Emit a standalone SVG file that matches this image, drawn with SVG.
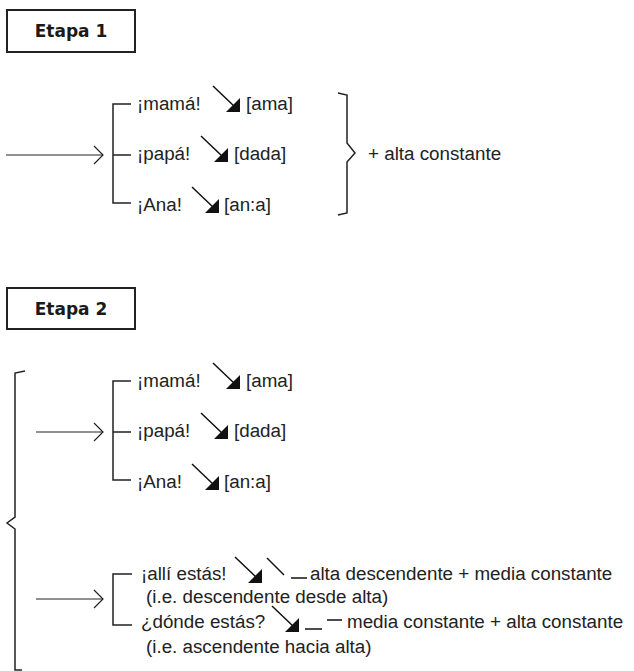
<svg xmlns="http://www.w3.org/2000/svg" width="634" height="671" viewBox="0 0 634 671">
<style>
  .bg{fill:#fff}
  .box{fill:#fff;stroke:#222;stroke-width:2}
  .title{font-family:"DejaVu Sans",sans-serif;font-weight:bold;font-size:17px;fill:#1a1a1a;text-anchor:middle}
  .t{font-family:"Liberation Sans",Arial,sans-serif;font-size:18.8px;fill:#222}
  .br{fill:none;stroke:#222;stroke-width:1.5}
  .ln{fill:none;stroke:#222;stroke-width:1.2}
  .gl{fill:none;stroke:#111;stroke-width:1.5}
  .tri{fill:#111}
</style>
<defs>
  <g id="fall">
    <line x1="0" y1="0" x2="22" y2="21" class="gl"/>
    <polygon points="13,26 27,26 27,12" class="tri"/>
  </g>
  <polyline id="chev" points="-9,-9 0,0 -9,9" class="ln"/>
</defs>
<rect class="bg" x="0" y="0" width="634" height="671"/>

<g id="etapa1">
  <rect class="box" x="7" y="10" width="128" height="42"/>
  <text class="title" x="71" y="37">Etapa 1</text>
</g>

<g id="e1-mama">
  <text class="t" x="137" y="110">¡mamá!</text>
  <use href="#fall" x="213" y="86"/>
  <text class="t" x="246" y="110">[ama]</text>
</g>
<g id="e1-papa">
  <text class="t" x="137" y="160">¡papá!</text>
  <use href="#fall" x="201" y="136"/>
  <text class="t" x="234" y="160">[dada]</text>
</g>
<g id="e1-ana">
  <text class="t" x="137" y="211">¡Ana!</text>
  <use href="#fall" x="192" y="187"/>
  <text class="t" x="224" y="211">[an:a]</text>
</g>
<g id="e1-result">
  <text class="t" x="368" y="160">+ alta constante</text>
</g>

<g id="etapa2">
  <rect class="box" x="7" y="288" width="128" height="41"/>
  <text class="title" x="71" y="315">Etapa 2</text>
</g>

<g id="e2-mama">
  <text class="t" x="137" y="387">¡mamá!</text>
  <use href="#fall" x="213" y="363"/>
  <text class="t" x="246" y="387">[ama]</text>
</g>
<g id="e2-papa">
  <text class="t" x="137" y="437">¡papá!</text>
  <use href="#fall" x="201" y="413"/>
  <text class="t" x="234" y="437">[dada]</text>
</g>
<g id="e2-ana">
  <text class="t" x="137" y="488">¡Ana!</text>
  <use href="#fall" x="192" y="464"/>
  <text class="t" x="224" y="488">[an:a]</text>
</g>

<g id="e2-alli">
  <text class="t" x="141" y="580">¡allí estás!</text>
  <use href="#fall" x="235" y="557"/>
  <line class="gl" x1="267" y1="558" x2="284" y2="575"/>
  <line class="gl" x1="291" y1="578" x2="307" y2="578"/>
  <text class="t" x="310" y="580">alta descendente + media constante</text>
  <text class="t" x="146" y="603">(i.e. descendente desde alta)</text>
</g>
<g id="e2-donde">
  <text class="t" x="141" y="628">¿dónde estás?</text>
  <use href="#fall" x="272" y="606"/>
  <line class="gl" x1="305" y1="629" x2="322" y2="629"/>
  <line class="gl" x1="327" y1="620" x2="342" y2="620"/>
  <text class="t" x="347" y="628">media constante + alta constante</text>
  <text class="t" x="146" y="653">(i.e. ascendente hacia alta)</text>
</g>

<g id="connectors">
  <!-- Etapa 1 -->
  <line class="ln" x1="6" y1="155" x2="103" y2="155"/>
  <use href="#chev" x="103" y="155"/>
  <path class="br" d="M131,104 H113 V203 H131 M113,155 H131"/>
  <path class="br" d="M338,93 L347,95 V143 L355,153 L347,162 V213 L338,215"/>
  <!-- Etapa 2 -->
  <path class="br" d="M25,371 L15,373 V517 L7,523 L15,529 V670 H22"/>
  <line class="ln" x1="36" y1="432" x2="103" y2="432"/>
  <use href="#chev" x="103" y="432"/>
  <path class="br" d="M131,381 H113 V480 H131 M113,432 H131"/>
  <line class="ln" x1="36" y1="599" x2="103" y2="599"/>
  <use href="#chev" x="103" y="599"/>
  <path class="br" d="M132,574 H113 V625 H132"/>
</g>
</svg>
